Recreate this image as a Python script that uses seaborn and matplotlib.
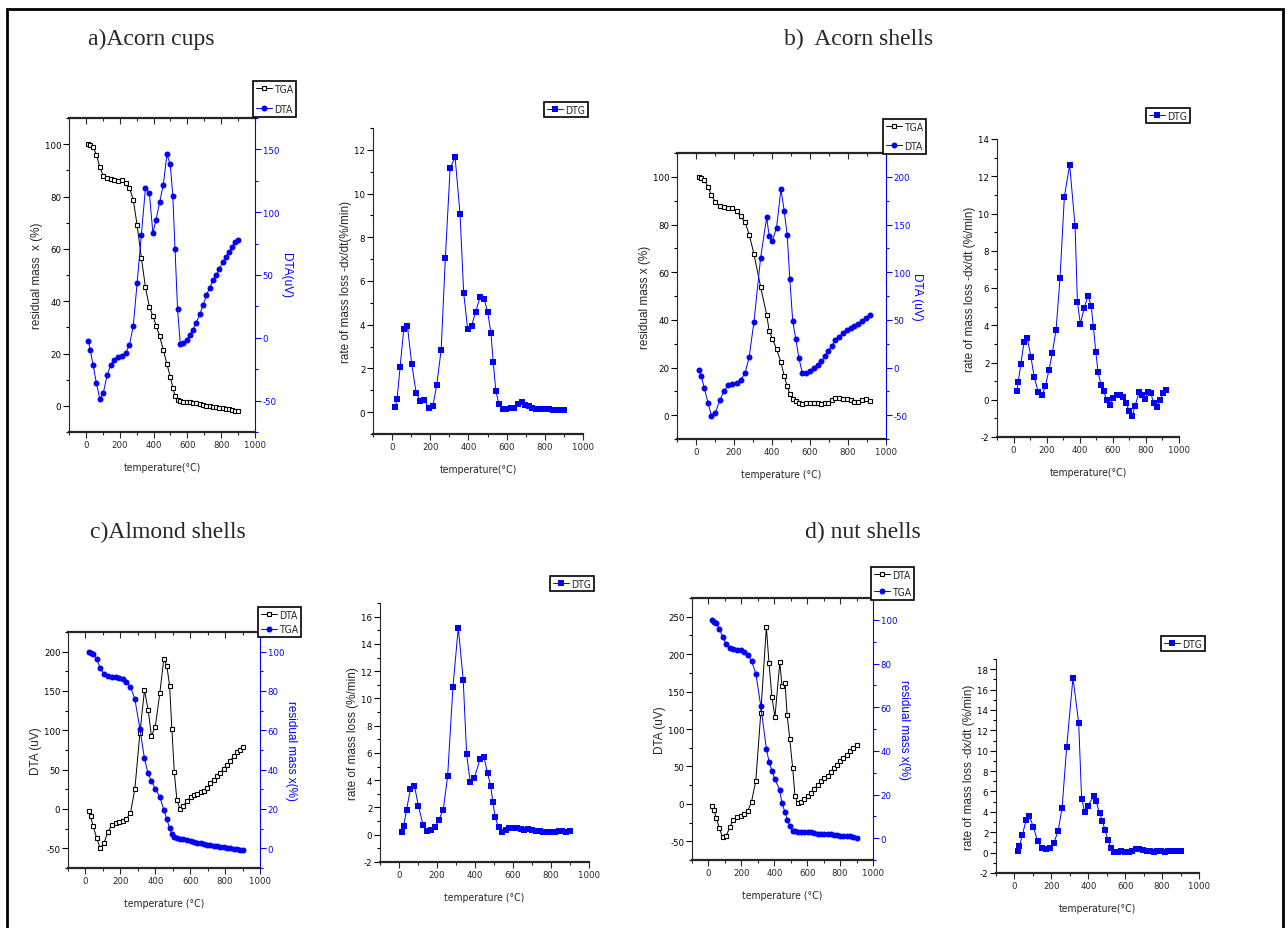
import os
import matplotlib
matplotlib.use('Agg')
import matplotlib.pyplot as plt
from matplotlib.ticker import MultipleLocator
from matplotlib.patches import Rectangle
from matplotlib import font_manager
from matplotlib.font_manager import FontProperties
import seaborn as sns

# ---- values ----
# a) Acorn cups
temp_a = [15, 25, 42, 62, 82, 103, 125, 147, 168, 190, 212, 235, 257, 280, 303, 328, 352, 375, 396, 415,
          436, 458, 479, 499, 514, 527, 542, 558, 576, 595, 614, 633, 653, 673, 693, 713, 733, 752, 771, 789,
          808, 828, 846, 864, 880, 897]
tga_a = [100, 99.5, 99, 96, 91.3, 87.9, 87.1, 86.6, 86.2, 85.8, 86.2, 85.2, 83.4, 78.8, 69, 56.6, 45.3, 37.9,
         34.4, 30.7, 26.7, 21.3, 16, 11.1, 6.9, 3.8, 2.2, 1.8, 1.6, 1.5, 1.3, 1.2, 1.0, 0.8, 0.4, 0.1, -0.2,
         -0.4, -0.6, -0.8, -1.0, -1.2, -1.4, -1.6, -1.8, -1.9]
dta_a = [-2.7, -9.4, -21.4, -36, -48.7, -44, -30, -21.4, -18, -15.6, -14.8, -12, -6, 9.3, 44, 82, 119, 115.5,
         83.5, 94, 108, 122, 146, 138, 113, 70.7, 23, -4.6, -4, -1.4, 2, 6.6, 12, 18.6, 26, 34, 40, 46, 50,
         54.7, 60, 64, 68, 72, 76, 78]
temp_a_dtg = [17, 26, 42, 61, 80, 103, 126, 147, 168, 192, 213, 234, 257, 279, 304, 330, 356, 375, 396, 417,
              438, 461, 482, 501, 518, 530, 543, 560, 581, 599, 621, 640, 661, 679, 698, 717, 735, 756, 778,
              799, 820, 843, 864, 883, 900]
dtg_a = [0.23, 0.6, 2.06, 3.8, 3.96, 2.2, 0.88, 0.53, 0.56, 0.2, 0.26, 1.25, 2.85, 7.04, 11.17, 11.66, 9.07,
         5.44, 3.8, 3.96, 4.6, 5.26, 5.18, 4.57, 3.6, 2.29, 0.99, 0.35, 0.15, 0.15, 0.2, 0.2, 0.37, 0.46, 0.34,
         0.26, 0.2, 0.15, 0.15, 0.15, 0.15, 0.12, 0.12, 0.12, 0.08]

# b) Acorn shells
temp_b = [18, 27, 44, 63, 81, 102, 125, 147, 170, 191, 214, 235, 258, 280, 305, 340, 372, 385, 402, 424,
          447, 464, 480, 494, 509, 525, 542, 560, 578, 599, 620, 640, 660, 679, 695, 714, 733, 753, 774, 794,
          814, 834, 854, 874, 895, 918]
tga_b = [100, 99.4, 98.6, 95.8, 92.3, 89.5, 87.8, 87.2, 87.1, 86.8, 85.5, 83.4, 80.9, 75.8, 67.6, 53.9, 42.1,
         35.5, 32, 27.8, 22.2, 16.6, 12.1, 8.8, 6.7, 5.8, 5.1, 4.6, 5.1, 5.3, 5.1, 4.9, 4.6, 4.9, 5.3, 6.3,
         7.4, 7.2, 6.7, 6.6, 6.3, 5.6, 5.6, 6.3, 6.7, 6.0]
dta_b = [-2.7, -9, -21.6, -37, -50.4, -47.5, -34.6, -24.4, -18.8, -17, -16, -12.9, -6.2, 11.3, 47.7, 115,
         157.6, 138, 132.8, 146.8, 187, 164.6, 138.7, 92.5, 48.7, 30.2, 9.5, -6.2, -5.5, -4.1, -0.6, 2.9, 6.7,
         12, 17.2, 22.5, 28.8, 32.3, 35.8, 39.3, 41.4, 43.5, 46, 48.7, 51.9, 55]
temp_b_dtg = [20, 28, 44, 63, 83, 105, 125, 149, 172, 192, 214, 234, 257, 281, 307, 339, 372, 386, 404, 426,
              450, 469, 483, 497, 511, 529, 545, 562, 582, 602, 624, 642, 659, 679, 699, 717, 735, 758, 776,
              794, 814, 830, 846, 865, 885, 905, 923]
dtg_b = [0.48, 0.93, 1.92, 3.08, 3.29, 2.31, 1.2, 0.43, 0.23, 0.72, 1.6, 2.49, 3.76, 6.53, 10.87, 12.62, 9.31,
         5.26, 4.06, 4.9, 5.59, 5.05, 3.88, 2.58, 1.47, 0.8, 0.48, -0.02, -0.27, 0.09, 0.27, 0.27, 0.13, -0.18,
         -0.59, -0.86, -0.32, 0.39, 0.27, 0.04, 0.39, 0.36, -0.16, -0.38, -0.04, 0.36, 0.54]

# c) Almond shells
temp_c = [19, 29, 44, 65, 84, 105, 128, 151, 174, 195, 214, 235, 258, 283, 312, 338, 359, 378, 400, 426,
          449, 466, 482, 495, 509, 524, 543, 560, 581, 602, 621, 641, 660, 677, 696, 715, 734, 753, 772, 791,
          811, 830, 849, 866, 883, 901]
dta_c = [-2.6, -9, -21.8, -37.2, -50, -43.7, -29.5, -20.1, -17.5, -16.7, -15.8, -12.4, -5.1, 25.3, 96.7, 151,
         126.2, 92.9, 104.5, 147.3, 191, 182.4, 156.7, 102.3, 46.7, 11.1, -0.4, 3.9, 9.8, 15.4, 18.4, 19.7,
         21.4, 23.5, 27, 32.5, 36.8, 41.5, 46.2, 50.9, 56, 61.6, 66.8, 71.9, 75.3, 78.8]
tga_c = [100, 99.5, 98.6, 96.1, 91.8, 88.7, 87.5, 87.2, 87.2, 86.7, 86.2, 84.6, 82.1, 75.9, 60.8, 45.7, 38.1,
         34.1, 30.4, 26.1, 19.6, 14.7, 10.4, 7.3, 6, 5.1, 4.8, 4.6, 4.3, 3.8, 3.4, 2.9, 2.6, 2.2, 1.9, 1.7,
         1.4, 1.0, 0.85, 0.5, 0.34, 0, -0.17, -0.34, -0.7, -1]
temp_c_dtg = [16, 25, 40, 60, 81, 102, 126, 149, 170, 191, 210, 233, 256, 284, 312, 338, 356, 375, 396, 427,
              447, 466, 482, 494, 506, 524, 543, 562, 581, 601, 622, 641, 660, 681, 700, 720, 741, 760, 779,
              800, 823, 841, 860, 881, 900]
dtg_c = [0.22, 0.66, 1.84, 3.36, 3.6, 2.13, 0.74, 0.25, 0.32, 0.59, 1.1, 1.84, 4.29, 10.85, 15.2, 11.34, 5.91,
         3.85, 4.15, 5.57, 5.69, 4.54, 3.6, 2.43, 1.28, 0.54, 0.22, 0.37, 0.47, 0.49, 0.52, 0.42, 0.34, 0.39,
         0.34, 0.29, 0.29, 0.22, 0.22, 0.22, 0.17, 0.25, 0.25, 0.17, 0.25]

# d) nut shells
temp_d = [24, 33, 48, 66, 86, 107, 130, 152, 174, 196, 218, 240, 262, 288, 318, 352, 368, 386, 404, 434,
          446, 466, 478, 494, 512, 526, 542, 562, 582, 602, 622, 644, 664, 684, 704, 724, 744, 764, 782, 800,
          820, 840, 860, 880, 902]
dta_d = [-2.2, -8, -19, -32.5, -44.5, -43.2, -31.2, -21, -17.8, -15.6, -13.8, -8.9, 3.1, 31.2, 121.5, 235.9,
         187.8, 142.4, 115.7, 190, 158, 161.1, 118.8, 86.8, 47.6, 10.2, 0.9, 3.1, 6.7, 10.2, 14.2, 20, 25.4,
         30.3, 34.3, 37.8, 43.2, 48.1, 52.1, 57, 61, 65.9, 70.3, 74.8, 79.2]
tga_d = [99.8, 99.1, 98.6, 95.9, 92.2, 89, 87.3, 86.6, 86.3, 86, 85.3, 84, 81.1, 75.4, 60.5, 40.9, 35.1, 30.7,
         26.9, 22, 15.9, 11.9, 8.5, 5.5, 3.5, 3.2, 2.9, 2.9, 2.7, 2.6, 2.6, 2.4, 2.1, 2, 1.8, 1.8, 1.7, 1.5,
         1.4, 1.2, 1.1, 0.9, 0.8, 0.6, 0.15]
temp_d_dtg = [18, 27, 43, 63, 81, 103, 126, 148, 169, 191, 213, 236, 258, 283, 317, 348, 364, 380, 398, 432,
              443, 461, 476, 490, 506, 523, 542, 560, 578, 598, 618, 638, 658, 677, 697, 717, 737, 757, 775,
              795, 814, 834, 854, 874, 894, 903]
dtg_d = [0.2, 0.62, 1.74, 3.18, 3.57, 2.49, 1.11, 0.49, 0.33, 0.49, 0.92, 2.1, 4.36, 10.36, 17.15, 12.75, 5.28,
         4.03, 4.62, 5.6, 5.02, 3.87, 3.15, 2.26, 1.25, 0.43, 0.1, 0.1, 0.13, 0.1, 0.1, 0.2, 0.36, 0.36, 0.26,
         0.16, 0.13, 0.1, 0.13, 0.13, 0.1, 0.13, 0.13, 0.13, 0.2, 0.2]

# ---- look ----
sns.set_theme(style='ticks')
plt.rcParams['font.family'] = ['Liberation Sans', 'DejaVu Sans']
plt.rcParams['axes.unicode_minus'] = False


def find_narrow():
    # Origin used Arial Narrow for ticks; look for any condensed sans file
    files = [f.fname for f in font_manager.fontManager.ttflist]
    for key in ['LiberationSansNarrow-Regular', 'DejaVuSansCondensed.', 'ArialN', 'Narrow', 'Condensed']:
        for fn in files:
            base = os.path.basename(fn)
            if key in base and not any(s in base for s in ['Bold', 'Italic', 'Oblique']):
                return fn
    return None


narrow_file = find_narrow()


def narrow(size):
    if narrow_file:
        return FontProperties(fname=narrow_file, size=size)
    return FontProperties(family='Liberation Sans', size=size - 0.8)


BLUE = '#0000ff'
W, H = 1287, 929

black_sq = dict(color='black', marker='s', markersize=3.3, markerfacecolor='white',
                markeredgecolor='black', markeredgewidth=0.8, linewidth=0.7)
blue_dot = dict(color=BLUE, marker='o', markersize=4.3, markeredgewidth=0, linewidth=0.7)
blue_sq = dict(color=BLUE, marker='s', markersize=3.8, markeredgewidth=0, linewidth=0.7)

fig = plt.figure(figsize=(W / 100, H / 100), dpi=100)


def px_axes(l, t, r, b):
    # axes from pixel box of the reference
    return fig.add_axes([l / W, 1 - b / H, (r - l) / W, (b - t) / H])


def ticks(ax, ylim, ymaj, ymin, color='black'):
    ax.set_ylim(*ylim)
    ax.yaxis.set_major_locator(MultipleLocator(ymaj))
    ax.yaxis.set_minor_locator(MultipleLocator(ymin))
    ax.tick_params(axis='y', which='major', direction='out', length=4, width=0.8, colors=color, pad=1.5)
    ax.tick_params(axis='y', which='minor', direction='out', length=2, width=0.8, colors=color)
    for lab in ax.get_yticklabels():
        lab.set_fontproperties(narrow(6.8))


def x_setup(ax, xlabel):
    ax.set_xlim(-100, 1000)
    ax.xaxis.set_major_locator(MultipleLocator(200))
    ax.xaxis.set_minor_locator(MultipleLocator(100))
    ax.tick_params(axis='x', which='major', direction='out', length=4, width=0.8, pad=2)
    ax.tick_params(axis='x', which='minor', direction='out', length=2, width=0.8)
    for lab in ax.get_xticklabels():
        lab.set_fontproperties(narrow(6.8))
    ax.set_xlabel(xlabel, fontproperties=narrow(7.5), labelpad=9)
    ax.spines['bottom'].set_linewidth(1.6)
    ax.spines['left'].set_linewidth(0.8)
    ax.grid(False)


def box_legend(ax, handles, labels, l, t, spacing):
    leg = ax.legend(handles, labels, loc='upper left', bbox_to_anchor=(l / W, 1 - t / H),
                    bbox_transform=fig.transFigure, frameon=True, fancybox=False, framealpha=1,
                    edgecolor='black', borderpad=0.25, borderaxespad=0, handlelength=1.6,
                    handletextpad=0.2, labelspacing=spacing, prop=narrow(7.5))
    leg.get_frame().set_linewidth(1.2)
    leg.set_zorder(10)


def tg_panel(rect, temps, left_vals, right_vals, left_style, right_style, labels,
             left_lim, left_ticks, right_lim, right_ticks, left_ylabel, right_ylabel, xlabel,
             leg_pos, leg_spacing):
    ax = px_axes(*rect)
    sns.lineplot(x=temps, y=left_vals, ax=ax, estimator=None, sort=False, legend=False, **left_style)
    x_setup(ax, xlabel)
    ticks(ax, left_lim, *left_ticks)
    ax.set_ylabel(left_ylabel, fontsize=8.5, labelpad=1)
    ax.spines['right'].set_visible(False)
    ax.spines['top'].set_visible(False)
    top = ax.secondary_xaxis('top')
    top.xaxis.set_major_locator(MultipleLocator(200))
    top.xaxis.set_minor_locator(MultipleLocator(100))
    top.tick_params(which='major', direction='in', length=4, width=0.8, labeltop=False)
    top.tick_params(which='minor', direction='in', length=2, width=0.8)
    top.spines['top'].set_linewidth(1.6)

    ax2 = ax.twinx()
    sns.lineplot(x=temps, y=right_vals, ax=ax2, estimator=None, sort=False, legend=False, **right_style)
    ticks(ax2, right_lim, *right_ticks, color=BLUE)
    for side in ['left', 'top', 'bottom']:
        ax2.spines[side].set_visible(False)
    ax2.spines['right'].set_color(BLUE)
    ax2.spines['right'].set_linewidth(0.8)
    ax2.set_ylabel(right_ylabel, fontsize=8.5, color=BLUE, rotation=270, labelpad=9)
    ax2.grid(False)
    box_legend(ax2, [ax.lines[0], ax2.lines[0]], labels, leg_pos[0], leg_pos[1], leg_spacing)
    return ax, ax2


def dtg_panel(rect, temps, vals, ylim, ymaj, ymin, ylabel, xlabel, leg_pos):
    ax = px_axes(*rect)
    sns.lineplot(x=temps, y=vals, ax=ax, estimator=None, sort=False, legend=False, **blue_sq)
    x_setup(ax, xlabel)
    ticks(ax, ylim, ymaj, ymin)
    ax.set_ylabel(ylabel, fontsize=8.5, labelpad=2)
    ax.spines['right'].set_visible(False)
    ax.spines['top'].set_visible(False)
    box_legend(ax, [ax.lines[0]], ['DTG'], leg_pos[0], leg_pos[1], 0.3)
    return ax


# a) Acorn cups
tg_panel((69, 119, 255, 433), temp_a, tga_a, dta_a, black_sq, blue_dot, ['TGA', 'DTA'],
         (-10, 110), (20, 10), (-75, 175), (50, 25),
         'residual mass  x (%)', 'DTA(uV)', 'temperature(°C)', (253, 82), 1.0)
dtg_panel((373, 129, 583, 435), temp_a_dtg, dtg_a, (-1, 13), 2, 1,
          'rate of mass loss -dx/dt(%/min)', 'temperature(°C)', (544, 103))

# b) Acorn shells
tg_panel((677, 154, 886, 440), temp_b, tga_b, dta_b, black_sq, blue_dot, ['TGA', 'DTA'],
         (-10, 110), (20, 10), (-75, 225), (50, 25),
         'residual mass x (%)', 'DTA (uV)', 'temperature (°C)', (883, 120), 0.9)
dtg_panel((997, 140, 1179, 438), temp_b_dtg, dtg_b, (-2, 14), 2, 1,
          'rate of mass loss -dx/dt (%/min)', 'temperature(°C)', (1146, 109))

# c) Almond shells
tg_panel((68, 633, 260, 869), temp_c, dta_c, tga_c, black_sq, blue_dot, ['DTA', 'TGA'],
         (-75, 225), (50, 25), (-10, 110), (20, 10),
         'DTA (uV)', 'residual mass x(%)', 'temperature (°C)', (258, 608), 0.45)
dtg_panel((380, 604, 589, 863), temp_c_dtg, dtg_c, (-2, 17), 2, 1,
          'rate of mass loss (%/min)', 'temperature (°C)', (550, 577))

# d) nut shells
tg_panel((692, 599, 873, 861), temp_d, dta_d, tga_d, black_sq, blue_dot, ['DTA', 'TGA'],
         (-75, 275), (50, 25), (-10, 110), (20, 10),
         'DTA (uV)', 'residual mass x(%)', 'temperature (°C)', (871, 568), 0.7)
dtg_panel((996, 660, 1199, 874), temp_d_dtg, dtg_d, (-2, 19), 2, 1,
          'rate of mass loss -dx/dt (%/min)', 'temperature(°C)', (1161, 637))

# panel titles
serif = {'family': 'Liberation Serif', 'size': 17}
fig.text(88 / W, 1 - 45 / H, 'a)Acorn cups', va='baseline', **serif)
fig.text(784 / W, 1 - 45 / H, 'b)  Acorn shells', va='baseline', **serif)
fig.text(90 / W, 1 - 538 / H, 'c)Almond shells', va='baseline', **serif)
fig.text(805 / W, 1 - 538 / H, 'd) nut shells', va='baseline', **serif)

# outer frame (open at the bottom like the original)
fig.add_artist(Rectangle((7 / W, -0.05), (1283 - 7) / W, 1.05 - 10 / H, transform=fig.transFigure,
                         fill=False, edgecolor='black', linewidth=2))

fig.savefig('out.png', dpi=100)
